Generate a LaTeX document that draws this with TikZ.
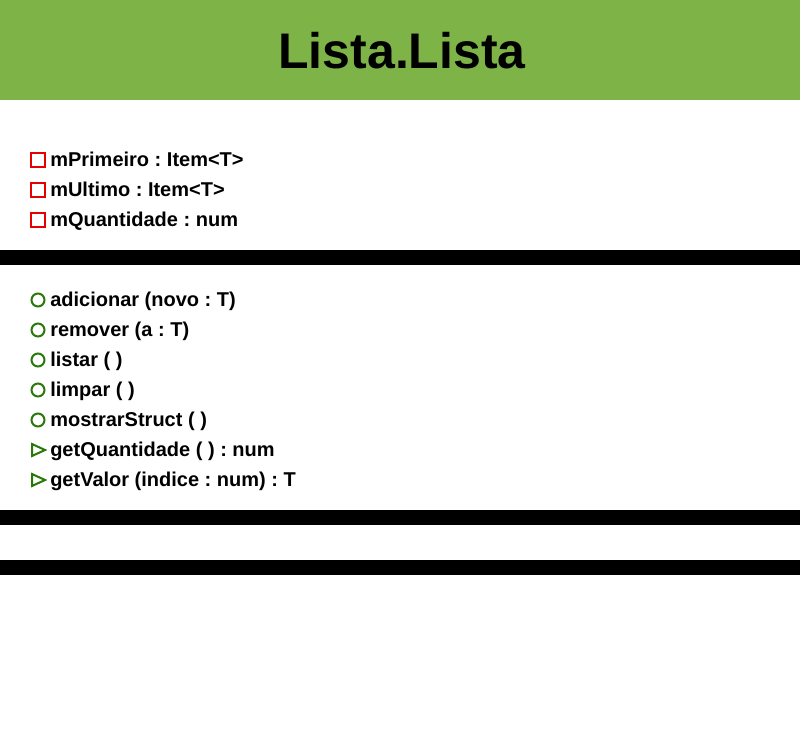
\documentclass[tikz,border=0pt]{standalone}
\usepackage{fontspec}
\setmainfont{Liberation Sans}
\frenchspacing
\definecolor{hdr}{RGB}{125,179,71}
\definecolor{icgreen}{RGB}{40,120,10}
\definecolor{icred}{RGB}{230,0,0}
\tikzset{
  member/.style={anchor=base west, inner sep=0pt, font=\fontsize{15pt}{17pt}\selectfont\bfseries},
  privicon/.style={draw=icred, line width=1.5pt},
  pubicon/.style={draw=icgreen, line width=1.5pt},
  bar/.style={fill=black, draw=none}
}
\begin{document}
\begin{tikzpicture}[x=0.75pt,y=-0.75pt]
\useasboundingbox (0,0) rectangle (800,730);
\fill[white] (0,0) rectangle (800,730);
\fill[hdr] (0,0) rectangle (800,100);
\node[inner sep=0pt, font=\fontsize{37.5pt}{40pt}\selectfont\bfseries] (title) at (402,51) {Lista.Lista};
% attributes
\foreach \i/\t in {0/{mPrimeiro : Item<T>},1/{mUltimo : Item<T>},2/{mQuantidade : num}}{
  \draw[privicon] (31,153+30*\i) rectangle (45,167+30*\i);
  \node[member] (a\i) at (50,167+30*\i) {\t};
}
\fill[bar] (0,250) rectangle (800,265);
% methods
\foreach \i/\t in {0/{adicionar (novo : T)},1/{remover (a : T)},2/{listar ( )},3/{limpar ( )},4/{mostrarStruct ( )}}{
  \draw[pubicon] (38,300+30*\i) circle (6.5);
  \node[member] (m\i) at (50,307+30*\i) {\t};
}
\foreach \i/\j/\t in {5/0/{getQuantidade ( ) : num},6/1/{getValor (indice : num) : T}}{
  \draw[pubicon, line join=miter] (32,444+30*\j) -- (45,450+30*\j) -- (32,456+30*\j) -- cycle;
  \node[member] (m\i) at (50,307+30*\i) {\t};
}
\fill[bar] (0,510) rectangle (800,525);
\fill[bar] (0,560) rectangle (800,575);
\end{tikzpicture}
\end{document}
